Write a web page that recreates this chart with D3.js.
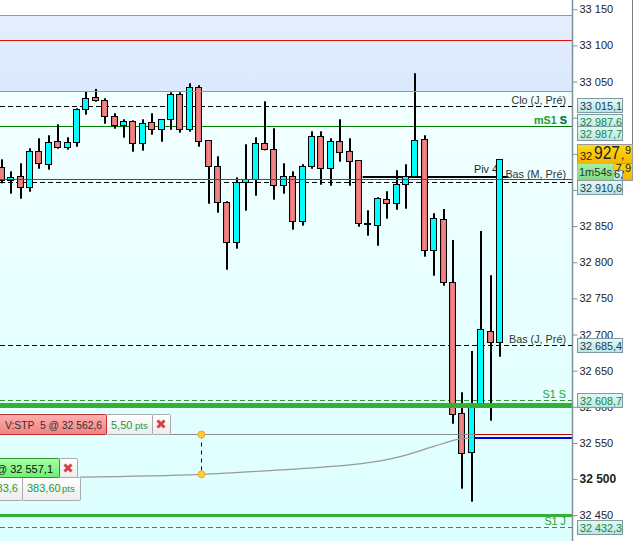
<!DOCTYPE html>
<html lang="en">
<head>
<meta charset="UTF-8">
<title>Candles</title>
<script src="https://d3js.org/d3.v7.min.js"></script>
<style>
  html, body { margin: 0; padding: 0; background: #fff; overflow: hidden; }
  svg { display: block; font-family: "Liberation Sans", Arial, sans-serif; }
</style>
</head>
<body>
<div id="Area"></div>
<script>
// candles
const opens = [32930.8,32913.8,32918.4,32903.7,32953.5,32935,32967.4,32959.1,32966,33011.7,33028.3,33024.1,33002,32989.5,32995.1,32964.6,32993.7,32984,32997.8,33032.4,32984,33042.1,32968.8,32932.8,32883,32827.6,32910.7,32914.8,32964.6,32956.3,32906.5,32918.4,32856.7,32932.8,32974.3,32930,32967.4,32953.5,32941.1,32852.5,32851.2,32887.1,32881.6,32907.9,32918.4,32970.1,32816.6,32859.5,32772.3,32591,32537.1,32603.9,32703.9,32689.3];
const highs = [32942.4,32925.8,32936.9,32957.7,32971.5,32975.7,32990.9,32972.9,33013,33035.6,33039.8,33026.9,33006.1,32997.8,32996.4,32997.8,33006.1,32997.8,33035.2,33035.2,33047.6,33044.9,32968.8,32946.6,32884.4,32917.5,32963.2,32972.9,33022.7,32985.4,32936.9,32925.8,32935.6,32981.2,32981.2,32971.5,32997.8,32971.5,32941.1,32871.9,32889.9,32898.2,32927.3,32935.6,33061.5,32975.7,32867.8,32873.7,32830.8,32620.1,32677.2,32843.3,32782,32942.4];
const lows = [32909.2,32894.9,32887.9,32897.6,32929.4,32928.1,32957.1,32955.8,32959.9,33004.2,33022.2,32991.7,32984.8,32972.4,32953,32954.4,32976.5,32966.8,32983.4,32979.3,32980.7,32959.9,32881,32868.6,32789.7,32818.8,32871.4,32892.1,32954.9,32886.6,32894.9,32845.1,32850.6,32929.4,32907.3,32905.9,32939.2,32905.9,32849.2,32836.8,32822.9,32860.3,32872.7,32874.1,32918.4,32807.7,32781.4,32767.6,32576.6,32486.7,32468.7,32603.9,32580.8,32669.3];
const closes = [32913.8,32917.5,32903.7,32953.5,32936.9,32966,32958.5,32966,33011.7,33026.9,33024.1,33002,32989.5,32995.1,32964.6,32992.3,32984,32997.8,33032.4,32984,33042.1,32967.4,32932.8,32883,32827.6,32910.7,32914.8,32964.6,32956.3,32906.5,32918.4,32856.7,32932.8,32974.3,32930,32967.4,32952.2,32939.7,32853.9,32853.4,32888.5,32881.6,32907.9,32918.4,32968.8,32816.6,32860.8,32772.3,32590,32535.7,32602.5,32707.2,32689.3,32942.4];

// axis
const tickValues = d3.range(32450, 33151, 50);
const boldTick = 32500;

// horizontal levels
const bandTop = 33140.8, bandBottom = 33036.3;
const redTop = 33106.9, redMid = 32914.5;
const cloLevel = 33015.1, mS1Level = 32987.7, basMLevel = 32910.6, basJLevel = 32685.4;
const s1SLevel = 32608.7, s1JLevel = 32432.3;
const thickLevel1 = 32601.8, thickLevel2 = 32449.6;
const pivLevel = 32918;
const stopPrice = 32562, entryPrice = 32557.1;

// price flags on the axis
const flagValues = [33015.1, 32987.6, 32987.7, 32910.6, 32685.4, 32608.7, 32432.3];
const flagTexts = ["33 015,1", "32 987,6", "32 987,7", "32 910,6", "32 685,4", "32 608,7", "32 432,3"];
const flagGreen = [false, true, true, false, false, true, true];

// level captions
const captionTexts = ["Clo (J, Pré)", "Bas (M, Pré)", "Bas (J, Pré)", "S1 S", "S1 J"];
const captionValues = [cloLevel, basMLevel, basJLevel, s1SLevel, s1JLevel];
const captionGreen = [false, false, false, true, true];

// gain curve under the order tags
const curveIdx = [8.33, 21.2, 30.67, 33.54, 42.37, 45.88, 48.75, 50.03];
const curvePrice = [32502.8, 32506.5, 32513.5, 32515.8, 32531, 32544.8, 32555.5, 32557.1];

const width = 634, height = 541, axisX = 572;

const svg = d3.select("#Area").append("svg")
    .attr("width", width)
    .attr("height", height);

const x = d3.scaleLinear().domain([0, 53]).range([1.7, 500]);
const y = d3.scaleLinear().domain([33150, 32450]).range([9.3, 515.2]);
const py = v => Math.floor(y(v)) + 0.5;
const sx = v => Math.round(x(v));

const defs = svg.append("defs");
function grad(id, stops, horizontal) {
  const g = defs.append("linearGradient").attr("id", id)
      .attr("x1", 0).attr("y1", 0)
      .attr("x2", horizontal ? 1 : 0).attr("y2", horizontal ? 0 : 1);
  stops.forEach((c, i) => g.append("stop").attr("offset", i / (stops.length - 1)).attr("stop-color", c));
}
grad("bgLow", ["#f3ffff", "#dcffff"]);
grad("bgBand", ["#e4eefd", "#dbe9fd"]);
grad("redBody", ["#dc6464", "#f28a8a", "#e06a6a"], true);
grad("flag", ["#e4f9f9", "#b9e4e4"]);
grad("gold", ["#ffdc14", "#f3b400"]);
grad("tagRed", ["#ffb0b0", "#f48080"]);
grad("tagGreen", ["#a8ffa8", "#6ff06f"]);
grad("tagWhite", ["#ffffff", "#ececec"]);
grad("timer", ["#a8eca8", "#84dc88"]);

// background
svg.append("rect").attr("x", 0).attr("y", py(bandBottom)).attr("width", axisX).attr("height", height - py(bandBottom)).attr("fill", "url(#bgLow)");
svg.append("rect").attr("x", 0).attr("y", py(bandTop)).attr("width", axisX).attr("height", py(bandBottom) - py(bandTop)).attr("fill", "url(#bgBand)");

function hline(v, color, w, dash, x1, x2) {
  return svg.append("line")
      .attr("x1", x1 === undefined ? 0 : x1)
      .attr("x2", x2 === undefined ? axisX : x2)
      .attr("y1", w % 2 ? py(v) : Math.round(y(v)))
      .attr("y2", w % 2 ? py(v) : Math.round(y(v)))
      .attr("stroke", color)
      .attr("stroke-width", w)
      .attr("stroke-dasharray", dash || null);
}

// lines under the candles
hline(mS1Level, "#008000", 1);
hline(cloLevel, "#000", 1, "5 3");
hline(basMLevel, "#000", 1, "5 3");
hline(basJLevel, "#000", 1, "5 3");
hline(s1SLevel, "#2a9a2a", 1, "5 3");
hline(s1JLevel, "#2a9a2a", 1, "5 3");
hline(pivLevel, "#000", 2, null, x(38.4), x(53.9));

// candles
const idx = d3.range(opens.length);
const candles = svg.append("g");
candles.selectAll("rect.wick").data(idx).enter().append("rect")
    .attr("class", "wick")
    .attr("x", i => sx(i) - 1)
    .attr("width", 2)
    .attr("y", i => y(highs[i]))
    .attr("height", i => y(lows[i]) - y(highs[i]))
    .attr("fill", "#000");
candles.selectAll("rect.body").data(idx).enter().append("rect")
    .attr("class", "body")
    .attr("x", i => sx(i) - 3.5)
    .attr("width", 6)
    .attr("y", i => py(Math.max(opens[i], closes[i])))
    .attr("height", i => Math.max(py(Math.min(opens[i], closes[i])) - py(Math.max(opens[i], closes[i])), 1))
    .attr("fill", i => closes[i] >= opens[i] ? "#00ffff" : "url(#redBody)")
    .attr("stroke", "#000")
    .attr("stroke-width", 1);

// lines over the candles
hline(bandTop, "#6d9eeb", 1);
hline(bandBottom, "#6d9eeb", 1);
hline(redTop, "#e01010", 1);
hline(redMid, "#e01010", 1);
hline(thickLevel1, "#35b035", 5);
hline(thickLevel2, "#35b035", 3);

// order lines and gain curve
hline(stopPrice, "#8c8c8c", 1, null, 168, 478);
svg.append("path")
    .attr("d", d3.line().x(d => x(d[0])).y(d => y(d[1])).curve(d3.curveMonotoneX)(curveIdx.map((c, i) => [c, curvePrice[i]])))
    .attr("fill", "none")
    .attr("stroke", "#999")
    .attr("stroke-width", 1.2);
hline(stopPrice, "#b00000", 1, null, 475, axisX);
hline(entryPrice, "#0000e6", 2, null, 475, axisX);
svg.append("line")
    .attr("x1", 201.5).attr("x2", 201.5)
    .attr("y1", py(stopPrice)).attr("y2", y(curvePrice[1]))
    .attr("stroke", "#000").attr("stroke-dasharray", "4 4");
[py(stopPrice), y(curvePrice[1])].forEach(cy => {
  svg.append("circle").attr("cx", 201.5).attr("cy", cy).attr("r", 3.5)
      .attr("fill", "#ffcc44").attr("stroke", "#eeaa22");
});

function label(txt, px, pyy, opt) {
  opt = opt || {};
  const t = svg.append("text")
      .attr("x", px).attr("y", pyy)
      .attr("text-anchor", opt.anchor || "start")
      .attr("font-size", opt.size || 11)
      .attr("font-weight", opt.weight || "normal")
      .attr("fill", opt.fill || "#222")
      .text(txt);
  if (opt.len) t.attr("textLength", opt.len).attr("lengthAdjust", "spacingAndGlyphs");
  return t;
}

// captions
captionTexts.forEach((t, i) => {
  label(t, 566, py(captionValues[i]) - (i === 1 ? 4.5 : 3), { anchor: "end", size: 10.8, fill: captionGreen[i] ? "#2e9e2e" : "#333" });
});
label("mS1 S", 567, py(mS1Level) - 3, { anchor: "end", weight: "bold", size: 10.8, fill: "#2a9a2a" });
label("S", 567, py(mS1Level) - 3, { anchor: "end", weight: "bold", size: 10.8, fill: "#127a5a" });
label("Piv 4", 498, py(pivLevel) - 4, { anchor: "end", size: 10.8, fill: "#222" });

// the last candle sits in front of the Piv caption
svg.append("rect")
    .attr("x", sx(53) - 3.5).attr("width", 6)
    .attr("y", py(closes[53])).attr("height", py(opens[53]) - py(closes[53]))
    .attr("fill", "#00ffff").attr("stroke", "#000");
hline(redMid, "#e01010", 1, null, sx(53) - 4, sx(53) + 3);

// axis
svg.append("rect").attr("x", axisX).attr("y", 0).attr("width", width - axisX).attr("height", height).attr("fill", "#fff");
const axis = svg.append("g").attr("transform", `translate(${axisX + 0.5},0)`)
    .call(d3.axisRight(y).tickValues(tickValues).tickSize(5).tickPadding(2)
      .tickFormat(d => d3.format("d")(d).replace(/(\d\d)(\d{3})/, "$1 $2")));
axis.select(".domain").attr("stroke", "#7f929c").attr("stroke-width", 1.5).attr("d", `M0,0V${height}`);
axis.selectAll(".tick line").attr("stroke", "#7f929c");
axis.selectAll(".tick text")
    .attr("font-family", '"Liberation Sans", Arial, sans-serif')
    .attr("font-size", d => d === boldTick ? 12 : 11)
    .attr("font-weight", d => d === boldTick ? "bold" : "normal")
    .attr("fill", "#222");
svg.append("line").attr("x1", 632.5).attr("x2", 632.5).attr("y1", 0).attr("y2", 144).attr("stroke", "#7f7f7f");

// flags, nudged where they stack on each other
function flagBox(bx, by, bw, bh, fill, stroke) {
  return svg.append("rect").attr("x", bx + 0.5).attr("y", by + 0.5).attr("width", bw).attr("height", bh)
      .attr("fill", fill).attr("stroke", stroke || "#7f9aa0").attr("stroke-width", 1);
}
const flagNudge = [-1, -5, 7, 5, 0, 0, 0];
flagValues.forEach((v, i) => {
  const fy = Math.floor(y(v)) - 7 + flagNudge[i];
  flagBox(577, fy, 45, 14, "url(#flag)");
  label(flagTexts[i], 580, fy + 11.5, { size: 10.8, fill: flagGreen[i] ? "#18883a" : "#1d3d4d" });
});

// live price flags
flagBox(577, 160, 55, 20, "url(#gold)", "#999");
label("7,9", 631, 172, { size: 11, anchor: "end", fill: "#222" });
flagBox(577, 144, 55, 19, "url(#gold)", "#999");
label("32", 580, 159.5, { size: 11 });
label("927", 594, 159, { size: 19, len: 26 });
label(",", 621, 159, { size: 12 });
label("9", 625, 153.5, { size: 10.8 });
flagBox(610, 170, 12, 10, "url(#flag)");
label("6,", 614, 178, { size: 10.8 });
flagBox(577, 163, 36, 16, "url(#timer)", "#8fd08f");
label("1m54s", 579, 175.5, { size: 11, fill: "#1d3d2d" });

// order tags
function tag(bx, by, bw, bh, fill, stroke) {
  return svg.append("rect").attr("x", bx + 0.5).attr("y", by + 0.5).attr("width", bw).attr("height", bh)
      .attr("rx", 1).attr("fill", fill).attr("stroke", stroke);
}
function cross(cx, cy) {
  const s = 3.5;
  [[-s, -s, s, s], [-s, s, s, -s]].forEach(d => {
    svg.append("line").attr("x1", cx + d[0]).attr("y1", cy + d[1]).attr("x2", cx + d[2]).attr("y2", cy + d[3])
        .attr("stroke", "#d84040").attr("stroke-width", 3);
  });
}
tag(152, 414, 18, 20, "url(#tagWhite)", "#aaa");
tag(106, 414, 46, 20, "url(#tagWhite)", "#aaa");
tag(-2, 414, 108, 20, "url(#tagRed)", "#c03038");
label("V:STP  5 @ 32 562,6", 5, 429, { size: 11, fill: "#333", len: 97 }).style("white-space", "pre");
label("5,50", 111, 429, { size: 11, fill: "#1d9a3a" });
label("pts", 135, 429, { size: 9.5, fill: "#1d9a3a" });
cross(161, 424);

tag(-2, 477, 24, 23, "url(#tagWhite)", "#aaa");
tag(22, 477, 58, 23, "url(#tagWhite)", "#aaa");
tag(59, 458, 18, 19, "url(#tagWhite)", "#aaa");
tag(-2, 458, 61, 19, "url(#tagGreen)", "#2a9a2a");
label("@ 32 557,1", 53, 473, { size: 11, anchor: "end", fill: "#111" });
label("83,6", 18, 492, { size: 11, anchor: "end", fill: "#1d9a3a" });
label("383,60", 27, 492, { size: 11, fill: "#1d9a3a" });
label("pts", 62, 492, { size: 9.5, fill: "#1d9a3a" });
cross(68, 468);
</script>
</body>
</html>
